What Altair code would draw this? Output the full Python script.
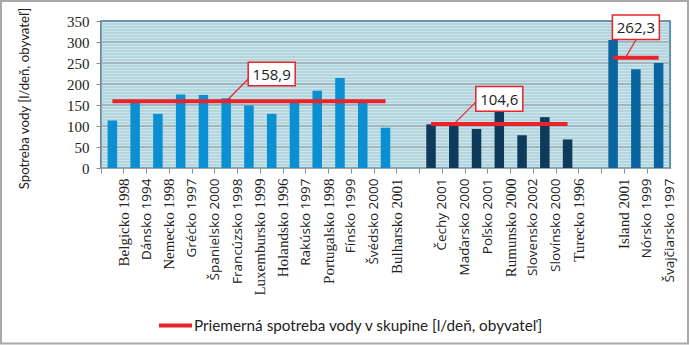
import altair as alt
import pandas as pd

countries = ["Belgicko 1998", "Dánsko 1994", "Nemecko 1998", "Grécko 1997", "Španielsko 2000",
             "Francúzsko 1998", "Luxembursko 1999", "Holandsko 1996", "Rakúsko 1997",
             "Portugalsko 1998", "Fínsko 1999", "Švédsko 2000", "Bulharsko 2001",
             "Čechy 2001", "Maďarsko 2000", "Poľsko 2001", "Rumunsko 2000", "Slovensko 2002",
             "Slovínsko 2000", "Turecko 1996",
             "Island 2001", "Nórsko 1999", "Švajčiarsko 1997"]
values = [113, 157, 129, 175, 174, 166, 149, 129, 158, 184, 214, 155, 96,
          104, 103, 93, 135, 78, 121, 68,
          305, 235, 250]
groups = ["A"] * 13 + ["B"] * 7 + ["C"] * 3
serif_labels = ["Belgicko 1998", "Nemecko 1998", "Luxembursko 1999", "Holandsko 1996",
                "Portugalsko 1998", "Bulharsko 2001", "Rumunsko 2000", "Turecko 1996", "Island 2001"]
y_ticks = [0, 50, 100, 150, 200, 250, 300, 350]

domain_order = countries[:13] + ["gap1"] + countries[13:20] + ["gap2"] + countries[20:]

# group averages
avg_first = ["Belgicko 1998", "Čechy 2001", "Island 2001"]
avg_last = ["Bulharsko 2001", "Turecko 1996", "Švajčiarsko 1997"]
avg_values = [158.9, 104.6, 262.3]
avg_text = ["158,9", "104,6", "262,3"]
legend_label = "Priemerná spotreba vody v skupine [l/deň, obyvateľ]"

# callout boxes
box_cat = ["Holandsko 1996", "Rumunsko 2000", "Nórsko 1999"]
box_lo = [196, 135, 306]
box_hi = [252, 194, 364]

# connectors
conn_from = ["Francúzsko 1998", "Maďarsko 2000"]
conn_to = ["Holandsko 1996", "Rumunsko 2000"]
conn_y = [158.9, 104.6]
conn_y2 = [212, 157]

bars_df = pd.DataFrame({"country": countries, "value": values, "group": groups})
avg_df = pd.DataFrame({"first": avg_first, "last": avg_last, "avg": avg_values,
                       "legend": [legend_label] * 3})
box_df = pd.DataFrame({"cat": box_cat, "lo": box_lo, "hi": box_hi, "txt": avg_text})
box_df["mid"] = (box_df["lo"] + box_df["hi"]) / 2
conn_df = pd.DataFrame({"a": conn_from, "b": conn_to, "y": conn_y, "y2": conn_y2})
conn3_df = pd.DataFrame({"a": ["Island 2001"], "y": [262.3], "y2": [306]})

RED = "#e8232a"
BAND = 569 / 25

x_scale = alt.Scale(domain=domain_order, paddingInner=0, paddingOuter=0)
y_scale = alt.Scale(domain=[0, 350], nice=False)

serif_js = "[" + ",".join("'" + s + "'" for s in serif_labels) + "]"
is_serif = "indexof(" + serif_js + ", datum.value) >= 0"
x_axis = alt.Axis(
    title=None, labelAngle=270, bandPosition=0, labelOffset=BAND / 2,
    labelExpr="indexof(datum.label, 'gap') === 0 ? '' : datum.label",
    labelFont={"expr": is_serif + " ? 'Liberation Serif' : 'Open Sans'"},
    labelFontSize={"expr": is_serif + " ? 15 : 13.5"},
    labelColor="#222", labelPadding=5, labelLimit=200,
    tickSize=5, tickColor="#8a8a8a", domainColor="#8a8a8a", grid=False,
)
y_axis = alt.Axis(
    title="Spotreba vody [l/deň, obyvateľ]", values=y_ticks, labelOverlap=False,
    labelFont="Liberation Serif", labelFontSize=15, labelColor="#222",
    labelPadding=7, tickSize=5, tickColor="#8a8a8a", grid=False, domainColor="#8a8a8a",
    titleFont="Lato", titleFontSize=13.2, titleFontWeight="normal", titleColor="#222",
    titleAngle=270, titleBaseline="alphabetic", titleX=-73, titleY=77, titleAlign="center",
)


def X(field):
    return alt.X(field, scale=x_scale, axis=x_axis)


def Y(field):
    return alt.Y(field, scale=y_scale, axis=y_axis)


# background stripe pattern and 50-unit gridlines (generated by Vega-Lite sequences)
stripes = alt.Chart(alt.sequence(start=0, stop=350, step=50 / 7, as_="s")).mark_rule(
    color="#a6c2ca", strokeWidth=1).encode(y=Y("s:Q"))
grid50 = alt.Chart(alt.sequence(start=50, stop=351, step=50, as_="g")).mark_rule(
    color="#8d979c", strokeWidth=1).encode(y=Y("g:Q"))

bars = alt.Chart(bars_df).mark_bar(width=9.5).encode(
    x=X("country:N"),
    y=Y("value:Q"),
    color=alt.Color("group:N", scale=alt.Scale(domain=["A", "B", "C"],
                                               range=["#0a8fd2", "#0e3a5c", "#0a64a0"]),
                    legend=None),
)

avg = alt.Chart(avg_df).mark_rule(strokeWidth=4).encode(
    x=X("first:N"),
    x2="last:N",
    y=Y("avg:Q"),
    color=alt.Color("legend:N", scale=alt.Scale(range=[RED]),
                    legend=alt.Legend(title=None, orient="none", legendX=56, legendY=286,
                                      padding=0, symbolSize=1089, symbolStrokeWidth=4,
                                      labelFont="Lato", labelFontSize=15.3, labelColor="#222",
                                      labelOffset=0, labelLimit=700)),
)

conn = alt.Chart(conn_df).mark_rule(color=RED, strokeWidth=1.2, x2Offset=-23.5).encode(
    x=X("a:N"), x2="b:N",
    y=Y("y:Q"), y2="y2:Q",
)
conn3 = alt.Chart(conn3_df).mark_rule(color=RED, strokeWidth=1.2, xOffset=12.3, x2Offset=23).encode(
    x=X("a:N"), x2="a:N",
    y=Y("y:Q"), y2="y2:Q",
)

boxes = alt.Chart(box_df).mark_bar(width=47, fill="white", stroke=RED, strokeWidth=1.5).encode(
    x=X("cat:N"),
    y=Y("lo:Q"), y2="hi:Q",
)
texts = alt.Chart(box_df).mark_text(font="Open Sans", fontSize=15, color="#222",
                                    baseline="middle", dy=1).encode(
    x=X("cat:N"),
    y=Y("mid:Q"),
    text="txt:N",
)

frame = alt.Chart(pd.DataFrame({"k": [0]})).mark_rect(
    fillOpacity=0, stroke="#a8a8a8", strokeWidth=2).encode(
    x=alt.value(-100), x2=alt.value(587), y=alt.value(-20), y2=alt.value(322.5),
)

chart = alt.layer(stripes, grid50, bars, avg, conn, conn3, boxes, texts, frame).resolve_scale(
    color="independent"
).properties(
    width=569, height=147,
    autosize=alt.AutoSizeParams(type="none"),
    padding={"left": 101, "top": 21, "right": 21, "bottom": 177},
    background="white",
).configure_view(
    fill="#c8e7ef", stroke="#25679a", strokeWidth=1.5,
)

chart.save("out.html", embed_options={"renderer": "svg", "actions": False})
